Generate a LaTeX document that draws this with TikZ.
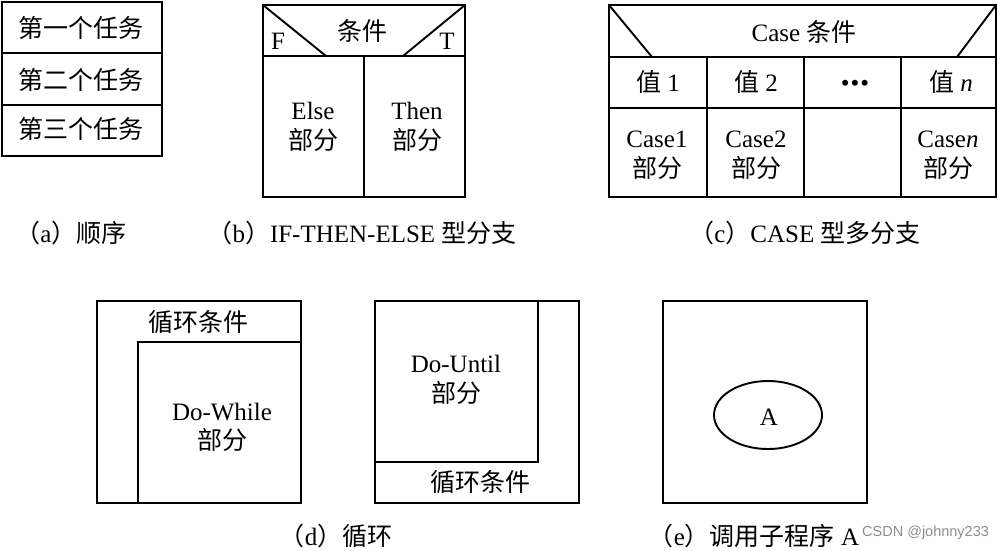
\documentclass[tikz,border=0pt]{standalone}
\usepackage{fontspec}
\setmainfont{Liberation Serif}
\newfontfamily\cjk{Noto Sans CJK SC}
\newfontfamily\wmfont{Liberation Sans}
\newcommand{\cn}[1]{{\cjk #1}}
\tikzset{
    frame/.style={line width=1.9pt, line join=miter},
    lbl/.style={font=\fontsize{25}{28}\selectfont, inner sep=0pt,
        text height=19pt, text depth=0pt},
    figcap/.style={lbl}
}

\begin{document}
\begin{tikzpicture}[x=1pt, y=-1pt]
                \useasboundingbox (0,0) rectangle (998,550);
                % (a) sequence
                \coordinate (a1) at (2,2);
                \coordinate (a2) at (162,156);
                \draw[frame] (a1) rectangle (a2);
                \draw[frame] (2,53) -- (162,53) (2,105) -- (162,105);
                \node[lbl] (t1) at (81,28) {\cn{第一个任务}};
                \node[lbl] (t2) at (81,80) {\cn{第二个任务}};
                \node[lbl] (t3) at (81,129) {\cn{第三个任务}};
                \node[figcap] (capa) at (71,233) {\cn{（}a\cn{）顺序}};
                % (b) if-then-else
                \coordinate (bTL) at (263,5);
                \coordinate (bTR) at (465,5);
                \coordinate (bBR) at (465,197);
                \coordinate (bBL) at (263,197);
                \draw[frame] (bTL) -- (bTR) -- (bBR) -- (bBL) -- cycle;
                \draw[frame] (263,56) -- (465,56) (364,56) -- (364,197);
                \draw[frame] (bTL) -- (326,56) (bTR) -- (403,56);
                \node[lbl] (bcond) at (362,31) {\cn{条件}};
                \node[lbl] (bF) at (278,40) {F};
                \node[lbl] (bT) at (447,40) {T};
                \node[lbl] (belse) at (313,110) {Else};
                \node[lbl] (belse2) at (313,140) {\cn{部分}};
                \node[lbl] (bthen) at (417,110) {Then};
                \node[lbl] (bthen2) at (417,140) {\cn{部分}};
                \node[figcap] (capb) at (362,233) {\cn{（}b\cn{）}IF-THEN-ELSE \cn{型分支}};
                % (c) case
                \coordinate (cTL) at (609,5);
                \coordinate (cTR) at (996,5);
                \draw[frame] (cTL) rectangle (996,197);
                \draw[frame] (609,57) -- (996,57) (609,108) -- (996,108);
                \foreach \x in {707,804,901}
                    \draw[frame] (\x,57) -- (\x,197);
                \draw[frame] (cTL) -- (652,57) (cTR) -- (957,57);
                \node[lbl] (ccond) at (804,32) {Case \cn{条件}};
                \node[lbl] (cv1) at (658,82) {\cn{值} 1};
                \node[lbl] (cv2) at (756,82) {\cn{值} 2};
                \node[lbl, font=\fontsize{25}{25}\selectfont, text height=31pt] (cvd) at (855,76) {•\hspace{1pt}•\hspace{1pt}•};
                \node[lbl] (cvn) at (951,82) {\cn{值} \textit{n}};
                \node[lbl] (cc1) at (657,138) {Case1};
                \node[lbl] (cc1b) at (657,168) {\cn{部分}};
                \node[lbl] (cc2) at (756,138) {Case2};
                \node[lbl] (cc2b) at (756,168) {\cn{部分}};
                \node[lbl] (ccn) at (948,138) {Case\textit{n}};
                \node[lbl] (ccnb) at (948,168) {\cn{部分}};
                \node[figcap] (capc) at (805,233) {\cn{（}c\cn{）}CASE \cn{型多分支}};
                % (d) loops
                \draw[frame] (97,301) rectangle (301,503);
                \draw[frame] (138,503) -- (138,342) -- (301,342);
                \node[lbl] (wcond) at (198,322) {\cn{循环条件}};
                \node[lbl] (wbody) at (222,411) {Do-While};
                \node[lbl] (wbody2) at (222,440) {\cn{部分}};
                \draw[frame] (375,301) rectangle (579,503);
                \draw[frame] (375,462) -- (538,462) -- (538,301);
                \node[lbl] (ubody) at (456,363) {Do-Until};
                \node[lbl] (ubody2) at (456,393) {\cn{部分}};
                \node[lbl] (ucond) at (480,482) {\cn{循环条件}};
                \node[figcap] (capd) at (336,536) {\cn{（}d\cn{）循环}};
                % (e) call
                \draw[frame] (663,301) rectangle (867,503);
                \draw[frame] (768,415) ellipse [x radius=54, y radius=34];
                \node[lbl] (sub) at (769,416) {A};
                \node[figcap] (cape) at (754,536) {\cn{（}e\cn{）调用子程序} A};
                \node[anchor=west, inner sep=0pt, text=black!45,
                    font=\wmfont\fontsize{14.5}{16}\selectfont] (wm) at (862,533) {CSDN @johnny233};
            \end{tikzpicture}
\end{document}
